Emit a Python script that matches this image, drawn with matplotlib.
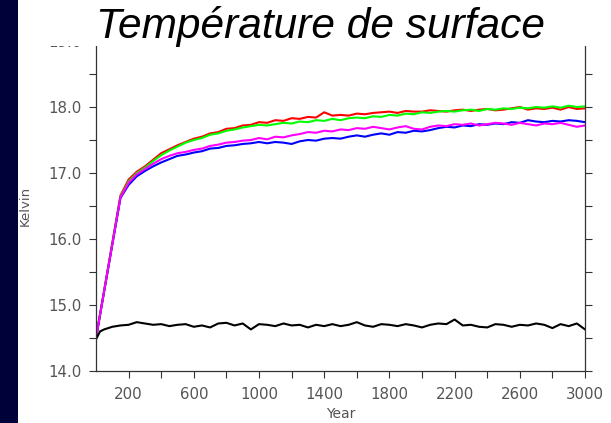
import matplotlib
matplotlib.use("Agg")
import matplotlib.pyplot as plt
from matplotlib.patches import Rectangle

# ---------------------------------------------------------
# Data (every 50 years)
# ---------------------------------------------------------
YEARS = [0, 150] + list(range(200, 3001, 50))

RED = [14.50, 16.66, 16.90, 17.02, 17.10, 17.20, 17.30, 17.36, 17.42, 17.47,
       17.52, 17.55, 17.60, 17.62, 17.67, 17.68, 17.72, 17.73, 17.77, 17.76,
       17.80, 17.79, 17.83, 17.82, 17.85, 17.84, 17.92, 17.87, 17.88, 17.87,
       17.90, 17.89, 17.91, 17.92, 17.93, 17.91, 17.94, 17.93, 17.93, 17.95,
       17.94, 17.93, 17.95, 17.96, 17.94, 17.96, 17.97, 17.95, 17.96, 17.98,
       18.00, 17.96, 17.98, 17.97, 17.99, 17.96, 18.00, 17.97, 17.98]

GREEN = [14.50, 16.64, 16.87, 17.00, 17.08, 17.18, 17.27, 17.34, 17.40, 17.46,
         17.50, 17.53, 17.58, 17.60, 17.64, 17.66, 17.69, 17.71, 17.73, 17.72,
         17.74, 17.76, 17.75, 17.78, 17.77, 17.80, 17.79, 17.82, 17.80, 17.83,
         17.84, 17.83, 17.86, 17.85, 17.88, 17.87, 17.90, 17.89, 17.92, 17.91,
         17.93, 17.94, 17.93, 17.95, 17.96, 17.94, 17.97, 17.96, 17.98, 17.97,
         17.99, 17.98, 18.00, 17.99, 18.01, 17.99, 18.02, 18.00, 18.01]

BLUE = [14.50, 16.62, 16.82, 16.95, 17.03, 17.10, 17.16, 17.21, 17.26, 17.28,
        17.31, 17.33, 17.37, 17.38, 17.41, 17.42, 17.44, 17.45, 17.47, 17.45,
        17.47, 17.46, 17.44, 17.48, 17.50, 17.49, 17.52, 17.53, 17.52, 17.55,
        17.57, 17.55, 17.58, 17.60, 17.58, 17.62, 17.61, 17.64, 17.63, 17.65,
        17.68, 17.70, 17.69, 17.72, 17.71, 17.74, 17.73, 17.75, 17.74, 17.77,
        17.76, 17.80, 17.78, 17.77, 17.79, 17.78, 17.80, 17.79, 17.77]

MAGENTA = [14.50, 16.63, 16.85, 16.98, 17.06, 17.14, 17.21, 17.26, 17.30, 17.32,
           17.35, 17.37, 17.41, 17.43, 17.46, 17.47, 17.49, 17.50, 17.53, 17.51,
           17.55, 17.54, 17.57, 17.59, 17.62, 17.61, 17.64, 17.63, 17.66, 17.65,
           17.68, 17.67, 17.70, 17.68, 17.66, 17.69, 17.71, 17.67, 17.66, 17.70,
           17.72, 17.71, 17.74, 17.73, 17.75, 17.72, 17.74, 17.76, 17.75, 17.73,
           17.76, 17.74, 17.72, 17.75, 17.74, 17.76, 17.73, 17.70, 17.72]

# controle: demarre plus vite, grille propre
YEARS_CTRL = [0, 25, 50, 75, 100, 150, 200, 250, 300] + list(range(350, 3001, 50))
BLACK = [14.48, 14.60, 14.63, 14.65, 14.67, 14.69, 14.70, 14.74, 14.72,
         14.70, 14.71, 14.68, 14.70, 14.71, 14.67, 14.69, 14.66, 14.72, 14.73,
         14.69, 14.72, 14.63, 14.71, 14.70, 14.68, 14.72, 14.69, 14.70, 14.66,
         14.70, 14.68, 14.71, 14.68, 14.70, 14.74, 14.69, 14.67, 14.71, 14.70,
         14.68, 14.71, 14.69, 14.66, 14.70, 14.72, 14.71, 14.78, 14.69, 14.70,
         14.67, 14.66, 14.71, 14.70, 14.67, 14.70, 14.69, 14.72, 14.70, 14.65,
         14.71, 14.68, 14.72, 14.63]

X_MAJOR = list(range(200, 3001, 400))
X_MINOR = list(range(400, 3000, 400))
Y_MAJOR = [14.0, 15.0, 16.0, 17.0, 18.0, 19.0]
Y_MINOR = [14.5, 15.5, 16.5, 17.5, 18.5]

TITLE = "Température de surface"

# ---------------------------------------------------------
# Figure
# ---------------------------------------------------------
W, H = 611, 423
fig = plt.figure(figsize=(W / 100, H / 100), dpi=100)
fig.patch.set_facecolor("white")

ax = fig.add_axes([96 / W, (H - 371) / H, 489 / W, 330 / H])

ax.plot(YEARS, RED, color="#ff0000", lw=1.5)
ax.plot(YEARS, GREEN, color="#00ff00", lw=1.5)
ax.plot(YEARS, BLUE, color="#0000ff", lw=1.5)
ax.plot(YEARS, MAGENTA, color="#ff00ff", lw=1.5)
ax.plot(YEARS_CTRL, BLACK, color="black", lw=1.5)

ax.set_xlim(0, 3000)
ax.set_ylim(14, 19)

ax.set_xticks(X_MAJOR)
ax.set_xticks(X_MINOR, minor=True)
ax.set_yticks(Y_MAJOR)
ax.set_yticks(Y_MINOR, minor=True)
ax.set_yticklabels([f"{v:.1f}" for v in Y_MAJOR])

grey = "#555555"
ax.tick_params(which="both", direction="out", length=5, width=0.8,
               color="#333333", labelcolor=grey, labelsize=10.8)
ax.tick_params(axis="y", which="both", right=True, labelright=False, pad=5.5)
ax.tick_params(axis="x", which="both", pad=6.5)

for side in ("left", "right", "bottom"):
    ax.spines[side].set_color("#333333")
    ax.spines[side].set_linewidth(0.9)
ax.spines["top"].set_visible(False)

ax.set_xlabel("Year", color=grey, fontsize=10)
ax.set_ylabel("Kelvin", color=grey, fontsize=9.5)
ax.xaxis.set_label_coords(0.5, (371 - 407) / 330)
ax.yaxis.set_label_coords((32 - 96) / 489, 0.5)

# bande bleue a gauche + cadre blanc du titre
fig.add_artist(Rectangle((0, 0), 18 / W, 1, transform=fig.transFigure,
                         facecolor="#01013a", edgecolor="none", zorder=5))
fig.add_artist(Rectangle((18 / W, (H - 46) / H), 1, 1, transform=fig.transFigure,
                         facecolor="white", edgecolor="none", zorder=5))
fig.text(321 / W, 1 - 38 / H, TITLE, ha="center", va="baseline",
         fontsize=30.5, style="italic", family="Liberation Sans", zorder=6)

fig.savefig("out.png", dpi=100, facecolor="white")
